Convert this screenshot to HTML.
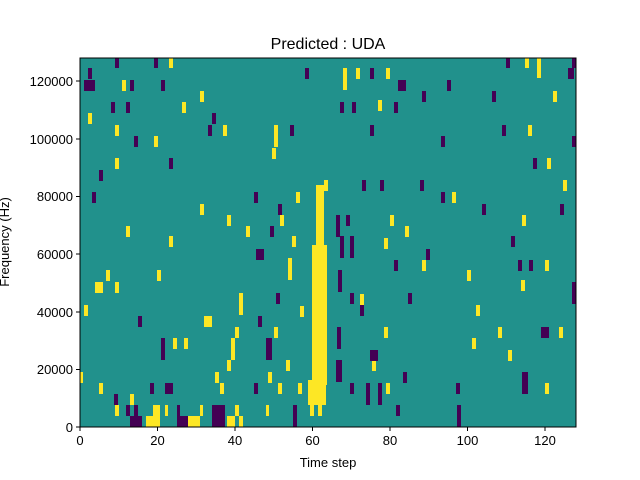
<!DOCTYPE html>
<html><head><style>body{margin:0;background:#fff;}svg{display:block;font-family:"Liberation Sans",sans-serif;}</style></head>
<body>
<svg width="640" height="480" viewBox="0 0 640 480">
<rect x="0" y="0" width="640" height="480" fill="#fff"/>
<rect x="80" y="58" width="496" height="369" fill="#21918c"/>
<g fill="#fde725">
<rect x="316" y="185" width="8" height="60"/><rect x="312" y="245" width="15" height="140"/><rect x="308" y="380" width="18" height="25"/><rect x="310" y="405" width="4" height="11"/><rect x="318" y="405" width="4" height="11"/>
<rect x="146" y="416" width="14" height="11"/><rect x="188" y="416" width="12" height="11"/><rect x="227" y="416" width="8" height="11"/><rect x="239" y="416" width="4" height="11"/>
<rect x="115" y="405" width="4" height="11"/><rect x="153" y="405" width="7" height="11"/><rect x="165" y="405" width="3" height="11"/><rect x="200" y="405" width="3" height="11"/><rect x="235" y="405" width="4" height="11"/><rect x="266" y="405" width="3" height="11"/>
<rect x="130" y="394" width="4" height="11"/><rect x="80" y="372" width="3" height="11"/><rect x="99" y="383" width="4" height="11"/><rect x="215" y="372" width="4" height="11"/><rect x="220" y="383" width="4" height="11"/><rect x="95" y="282" width="8" height="11"/><rect x="204" y="316" width="8" height="11"/>
<rect x="239" y="293" width="4" height="22"/><rect x="235" y="327" width="4" height="11"/><rect x="231" y="338" width="4" height="22"/><rect x="227" y="360" width="4" height="11"/><rect x="184" y="338" width="4" height="11"/><rect x="173" y="338" width="4" height="11"/><rect x="274" y="327" width="4" height="11"/><rect x="300" y="306" width="4" height="11"/><rect x="286" y="360" width="4" height="11"/><rect x="278" y="383" width="4" height="11"/><rect x="268" y="372" width="4" height="11"/><rect x="298" y="383" width="4" height="11"/>
<rect x="372" y="360" width="4" height="11"/><rect x="384" y="327" width="4" height="11"/><rect x="360" y="294" width="4" height="11"/><rect x="386" y="383" width="4" height="11"/><rect x="384" y="238" width="4" height="11"/><rect x="390" y="215" width="4" height="11"/><rect x="405" y="226" width="4" height="11"/><rect x="422" y="260" width="4" height="11"/><rect x="452" y="192" width="4" height="11"/><rect x="467" y="270" width="4" height="11"/><rect x="476" y="305" width="4" height="11"/><rect x="472" y="338" width="4" height="11"/><rect x="498" y="327" width="4" height="11"/><rect x="508" y="350" width="4" height="11"/><rect x="521" y="280" width="4" height="11"/><rect x="545" y="260" width="4" height="11"/><rect x="545" y="383" width="4" height="11"/><rect x="559" y="327" width="4" height="11"/><rect x="522" y="215" width="4" height="11"/><rect x="563" y="180" width="4" height="11"/><rect x="547" y="158" width="4" height="11"/><rect x="528" y="125" width="4" height="11"/><rect x="553" y="91" width="4" height="11"/><rect x="537" y="58" width="4" height="20"/><rect x="525" y="58" width="4" height="10"/>
<rect x="343" y="68" width="4" height="22"/><rect x="356" y="68" width="4" height="11"/><rect x="378" y="100" width="4" height="11"/><rect x="386" y="68" width="4" height="11"/><rect x="274" y="125" width="4" height="22"/><rect x="272" y="148" width="4" height="11"/><rect x="154" y="136" width="4" height="11"/><rect x="115" y="125" width="4" height="11"/><rect x="88" y="113" width="4" height="11"/><rect x="115" y="158" width="4" height="11"/><rect x="182" y="102" width="4" height="11"/><rect x="200" y="91" width="4" height="11"/><rect x="223" y="125" width="4" height="11"/><rect x="122" y="80" width="4" height="11"/><rect x="169" y="58" width="4" height="10"/>
<rect x="200" y="204" width="4" height="11"/><rect x="227" y="215" width="4" height="11"/><rect x="246" y="226" width="4" height="11"/><rect x="169" y="236" width="4" height="11"/><rect x="126" y="226" width="4" height="11"/><rect x="106" y="270" width="4" height="11"/><rect x="84" y="305" width="4" height="11"/><rect x="115" y="282" width="4" height="11"/><rect x="157" y="270" width="4" height="11"/><rect x="292" y="236" width="4" height="11"/><rect x="280" y="215" width="4" height="11"/><rect x="288" y="258" width="4" height="22"/><rect x="296" y="192" width="4" height="11"/><rect x="324" y="180" width="4" height="11"/>
</g>
<g fill="#440154">
<rect x="130" y="416" width="12" height="11"/><rect x="177" y="416" width="11" height="11"/><rect x="212" y="405" width="13" height="22"/><rect x="126" y="405" width="4" height="11"/><rect x="134" y="405" width="4" height="11"/><rect x="177" y="405" width="3" height="11"/><rect x="293" y="405" width="4" height="22"/>
<rect x="165" y="383" width="8" height="11"/><rect x="150" y="383" width="4" height="11"/><rect x="114" y="394" width="4" height="11"/><rect x="254" y="383" width="4" height="11"/><rect x="266" y="338" width="6" height="22"/><rect x="337" y="327" width="4" height="22"/><rect x="336" y="360" width="6" height="22"/><rect x="350" y="383" width="4" height="11"/><rect x="370" y="350" width="8" height="11"/><rect x="366" y="383" width="4" height="22"/><rect x="378" y="383" width="4" height="22"/><rect x="396" y="405" width="4" height="11"/><rect x="403" y="372" width="4" height="11"/><rect x="457" y="405" width="4" height="22"/><rect x="456" y="383" width="4" height="11"/><rect x="522" y="372" width="6" height="22"/><rect x="541" y="327" width="8" height="11"/><rect x="572" y="282" width="4" height="22"/><rect x="138" y="316" width="4" height="11"/><rect x="161" y="338" width="4" height="22"/><rect x="258" y="316" width="4" height="11"/><rect x="276" y="293" width="4" height="11"/><rect x="256" y="249" width="8" height="11"/><rect x="270" y="226" width="4" height="11"/><rect x="254" y="192" width="4" height="11"/><rect x="278" y="204" width="4" height="11"/><rect x="336" y="215" width="4" height="22"/><rect x="340" y="236" width="4" height="22"/><rect x="346" y="215" width="4" height="11"/><rect x="350" y="236" width="4" height="22"/><rect x="338" y="270" width="4" height="22"/><rect x="350" y="293" width="4" height="11"/><rect x="360" y="305" width="4" height="11"/><rect x="362" y="180" width="4" height="11"/><rect x="380" y="180" width="4" height="11"/><rect x="420" y="180" width="4" height="11"/><rect x="441" y="192" width="4" height="11"/><rect x="482" y="204" width="4" height="11"/><rect x="511" y="236" width="4" height="11"/><rect x="518" y="260" width="4" height="11"/><rect x="529" y="260" width="4" height="11"/><rect x="560" y="204" width="4" height="11"/><rect x="394" y="260" width="4" height="11"/><rect x="408" y="293" width="4" height="11"/><rect x="426" y="249" width="4" height="11"/>
<rect x="84" y="80" width="11" height="11"/><rect x="88" y="68" width="4" height="11"/><rect x="115" y="58" width="4" height="10"/><rect x="130" y="80" width="4" height="11"/><rect x="111" y="102" width="4" height="11"/><rect x="126" y="102" width="4" height="11"/><rect x="134" y="136" width="4" height="11"/><rect x="99" y="170" width="4" height="11"/><rect x="92" y="192" width="4" height="11"/><rect x="169" y="158" width="4" height="11"/><rect x="208" y="125" width="4" height="11"/><rect x="212" y="113" width="4" height="11"/><rect x="161" y="80" width="4" height="11"/><rect x="154" y="58" width="4" height="10"/><rect x="305" y="68" width="4" height="11"/><rect x="290" y="125" width="4" height="11"/><rect x="340" y="102" width="4" height="11"/><rect x="352" y="102" width="4" height="11"/><rect x="370" y="68" width="4" height="11"/><rect x="370" y="125" width="4" height="11"/><rect x="398" y="80" width="8" height="11"/><rect x="394" y="102" width="4" height="11"/><rect x="422" y="91" width="4" height="11"/><rect x="441" y="136" width="4" height="11"/><rect x="447" y="80" width="4" height="11"/><rect x="492" y="91" width="4" height="11"/><rect x="502" y="125" width="4" height="11"/><rect x="506" y="58" width="4" height="10"/><rect x="568" y="68" width="6" height="11"/><rect x="572" y="58" width="4" height="10"/><rect x="596" y="113" width="0" height="0"/><rect x="572" y="136" width="4" height="11"/><rect x="533" y="158" width="4" height="11"/>
</g>
<rect x="80" y="58" width="496" height="369" fill="none" stroke="#000" stroke-width="1"/>
<g stroke="#000" stroke-width="1">
<line x1="80" y1="427" x2="80" y2="431"/><line x1="157.5" y1="427" x2="157.5" y2="431"/><line x1="235" y1="427" x2="235" y2="431"/><line x1="312.5" y1="427" x2="312.5" y2="431"/><line x1="390" y1="427" x2="390" y2="431"/><line x1="467.5" y1="427" x2="467.5" y2="431"/><line x1="545" y1="427" x2="545" y2="431"/>
<line x1="76" y1="427" x2="80" y2="427"/><line x1="76" y1="369.5" x2="80" y2="369.5"/><line x1="76" y1="312" x2="80" y2="312"/><line x1="76" y1="254" x2="80" y2="254"/><line x1="76" y1="196.5" x2="80" y2="196.5"/><line x1="76" y1="139" x2="80" y2="139"/><line x1="76" y1="81" x2="80" y2="81"/>
</g>
<g font-size="13" fill="#000" text-anchor="middle">
<text x="80" y="445">0</text><text x="157.5" y="445">20</text><text x="235" y="445">40</text><text x="312.5" y="445">60</text><text x="390" y="445">80</text><text x="467.5" y="445">100</text><text x="545" y="445">120</text>
<text x="328" y="467">Time step</text>
<text x="328" y="49" font-size="16">Predicted : UDA</text>
</g>
<g font-size="13" fill="#000" text-anchor="end">
<text x="73" y="432">0</text><text x="73" y="374">20000</text><text x="73" y="317">40000</text><text x="73" y="259">60000</text><text x="73" y="201">80000</text><text x="73" y="144">100000</text><text x="73" y="86">120000</text>
</g>
<text x="9" y="242" font-size="13" text-anchor="middle" transform="rotate(-90 9 242)">Frequency (Hz)</text>
</svg>
</body></html>
